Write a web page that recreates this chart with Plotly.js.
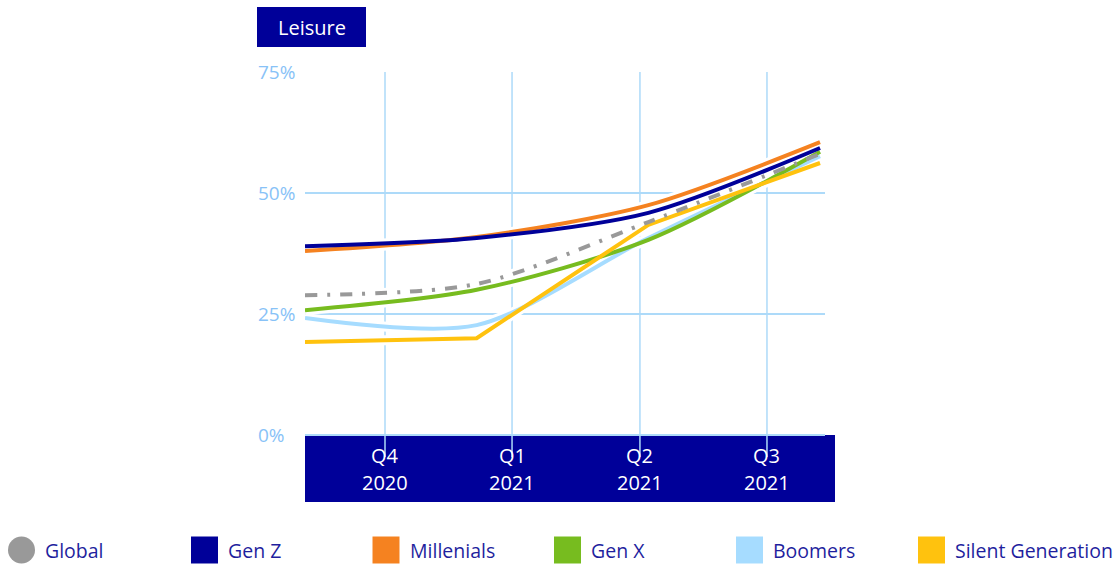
<!DOCTYPE html>
<html>
<head>
<meta charset="utf-8">
<script src="https://cdn.plot.ly/plotly-3.0.1.min.js"></script>
<style>html,body{margin:0;padding:0;background:#fff;}#chart{width:1119px;height:572px;}</style>
</head>
<body>
<div id="chart"></div>
<script>
// ---- data ----
const chartTitle = "Leisure";
const quarterLabels = ["Q4", "Q1", "Q2", "Q3"];
const yearLabels = ["2020", "2021", "2021", "2021"];
const pointIndex = [0, 1, 2, 3];
const yTickValues = [0, 25, 50, 75];
const yTickLabels = ["0%", "25%", "50%", "75%"];

const seriesNames = ["Global", "Gen Z", "Millenials", "Gen X", "Boomers", "Silent Generation"];
const globalValues     = [28.9, 31.2, 44.0, 58.1];
const genZValues       = [39.0, 40.7, 45.9, 59.3];
const millenialsValues = [38.0, 40.9, 47.5, 60.5];
const genXValues       = [25.8, 30.0, 40.3, 58.5];
const boomersValues    = [24.2, 22.7, 40.7, 57.6];
const silentValues     = [19.2, 20.0, 43.4, 56.2];

// ---- styling ----
const colors = {
  "Global": "#999999",
  "Gen Z": "#000099",
  "Millenials": "#f58220",
  "Gen X": "#77bc1f",
  "Boomers": "#a6dcff",
  "Silent Generation": "#ffc20e"
};
const valuesByName = {
  "Global": globalValues,
  "Gen Z": genZValues,
  "Millenials": millenialsValues,
  "Gen X": genXValues,
  "Boomers": boomersValues,
  "Silent Generation": silentValues
};
const drawOrder = ["Boomers", "Gen X", "Silent Generation", "Global", "Millenials", "Gen Z"];
const FONT = "Open Sans, DejaVu Sans, sans-serif";
const FW = 400;
const gridColor = "#addaf9";
const navy = "#000099";

// positions of category gridlines / labels in point-index units
const tickPos = [0.466, 1.206, 1.951, 2.691];

const lineShape = name => name === "Silent Generation" ? "linear" : "spline";
const traces = [];
// white halos first
drawOrder.forEach(name => {
  traces.push({
    x: pointIndex, y: valuesByName[name], type: "scatter", mode: "lines",
    line: {color: "#ffffff", width: 10, shape: lineShape(name), smoothing: 0.8},
    hoverinfo: "skip", showlegend: false
  });
});
// coloured lines
drawOrder.forEach(name => {
  traces.push({
    x: pointIndex, y: valuesByName[name], type: "scatter", mode: "lines", name: name,
    line: {color: colors[name], width: 4, shape: lineShape(name), smoothing: 0.8,
           dash: name === "Global" ? "12px,10px,3px,10px" : "solid"},
    showlegend: false
  });
});

// pixel helpers (plot area: x 305..825, y 72..502)
const px = v => (v - 305) / 520;
const py = v => (502 - v) / 430;

const shapes = [];
const annotations = [];

// blue band under the plot
shapes.push({type: "rect", xref: "paper", yref: "paper", x0: 0, x1: px(835), y0: 0, y1: py(435),
  fillcolor: navy, line: {width: 0}, layer: "below"});
// vertical category gridlines
tickPos.forEach(t => shapes.push({type: "line", xref: "x", yref: "y", x0: t, x1: t, y0: -4.55, y1: 75,
  line: {color: gridColor, width: 1.5}, layer: "below"}));

// title box
shapes.push({type: "rect", xref: "paper", yref: "paper", x0: px(257), x1: px(366), y0: py(47), y1: py(7),
  fillcolor: navy, line: {width: 0}});
annotations.push({xref: "paper", yref: "paper", x: px(311.5), y: py(27), text: chartTitle, showarrow: false,
  xanchor: "center", yanchor: "middle", font: {family: FONT, size: 20, weight: FW, color: "#ffffff"}});

// y tick labels
yTickValues.forEach((v, i) => annotations.push({xref: "paper", yref: "y", x: px(256), y: v,
  text: yTickLabels[i], showarrow: false, xanchor: "left", yanchor: "middle",
  font: {family: FONT, size: 19, weight: FW, color: "#88c2f7"}}));

// x labels inside band
tickPos.forEach((t, i) => {
  annotations.push({xref: "x", yref: "paper", x: t, y: py(455), text: quarterLabels[i], showarrow: false,
    xanchor: "center", yanchor: "middle", font: {family: FONT, size: 20, weight: FW, color: "#ffffff"}});
  annotations.push({xref: "x", yref: "paper", x: t, y: py(482), text: yearLabels[i], showarrow: false,
    xanchor: "center", yanchor: "middle", font: {family: FONT, size: 20, weight: FW, color: "#ffffff"}});
});

// custom legend
const legendX = [8, 191, 372.5, 554, 736, 918];
const legendY = 550, sz = 27;
seriesNames.forEach((name, i) => {
  const x0 = legendX[i];
  shapes.push({type: name === "Global" ? "circle" : "rect", xref: "paper", yref: "paper",
    x0: px(x0), x1: px(x0 + sz), y0: py(legendY + sz / 2), y1: py(legendY - sz / 2),
    fillcolor: colors[name], line: {width: 0}});
  annotations.push({xref: "paper", yref: "paper", x: px(x0 + sz + 8), y: py(legendY), text: name,
    showarrow: false, xanchor: "left", yanchor: "middle",
    font: {family: FONT, size: 19.5, weight: FW, color: "#1f1f9e"}});
});

const layout = {
  width: 1119, height: 572,
  margin: {l: 305, r: 294, t: 72, b: 70, pad: 0},
  paper_bgcolor: "#ffffff", plot_bgcolor: "rgba(0,0,0,0)",
  showlegend: false,
  xaxis: {range: [0, 3.029], showgrid: false, zeroline: false, showticklabels: false, showline: false, fixedrange: true},
  yaxis: {range: [-13.84, 75], tickvals: yTickValues, showgrid: true, gridcolor: gridColor, gridwidth: 1.5,
          zeroline: false, showticklabels: false, showline: false, fixedrange: true},
  shapes: shapes,
  annotations: annotations
};

Plotly.newPlot("chart", traces, layout, {displayModeBar: false, staticPlot: true});
</script>
</body>
</html>
